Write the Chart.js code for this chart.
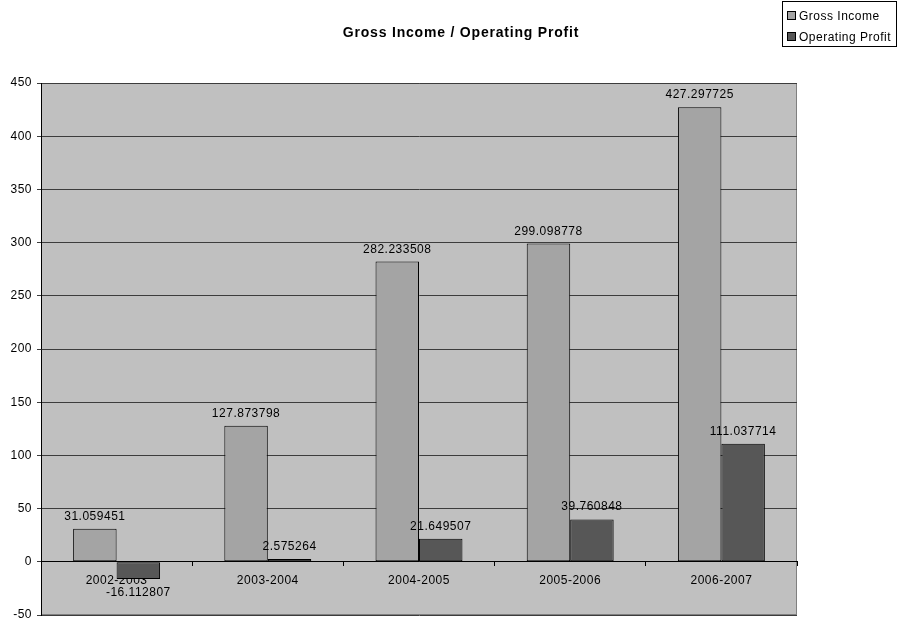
<!DOCTYPE html>
<html lang="en">
<head>
    <meta charset="UTF-8">
    <title>Gross Income / Operating Profit</title>
    <script src="https://cdn.jsdelivr.net/npm/chart.js@4.4.0/dist/chart.umd.min.js"></script>
    <style>
        html, body { margin: 0; padding: 0; background: #fff; }
        .chart-container { position: relative; width: 899px; height: 624px; }
    </style>
</head>
<body>
    <div class="chart-container">
        <canvas id="incomeChart"></canvas>
    </div>

    <script>
        // data
        const periods = ['2002-2003', '2003-2004', '2004-2005', '2005-2006', '2006-2007'];
        const grossIncome = [31.059451, 127.873798, 282.233508, 299.098778, 427.297725];
        const operatingProfit = [-16.112807, 2.575264, 21.649507, 39.760848, 111.037714];
        const seriesNames = ['Gross Income', 'Operating Profit'];
        const chartTitle = 'Gross Income / Operating Profit';

        const FONT = '"Liberation Sans", Arial, sans-serif';
        Chart.defaults.font.family = FONT;
        Chart.defaults.font.size = 12;
        Chart.defaults.color = '#000';

        // the reference text runs a bit wider than plain Arial
        const spacing = {
            id: 'spacing',
            beforeDraw(chart) { chart.ctx.letterSpacing = '0.5px'; }
        };

        // plot background + frame
        const plotBackground = {
            id: 'plotBackground',
            beforeDraw(chart) {
                const { ctx, chartArea: a } = chart;
                ctx.save();
                ctx.fillStyle = '#c0c0c0';
                ctx.fillRect(a.left, a.top, a.right - a.left, a.bottom - a.top);
                ctx.strokeStyle = '#808080';
                ctx.lineWidth = 1;
                ctx.strokeRect(a.left + 0.5, a.top + 0.5, a.right - a.left - 1, a.bottom - a.top - 1);
                ctx.restore();
            }
        };

        // value labels above / below each bar
        const valueLabels = {
            id: 'valueLabels',
            afterDatasetsDraw(chart) {
                const ctx = chart.ctx;
                ctx.save();
                ctx.font = '12px ' + FONT;
                ctx.letterSpacing = '0.5px';
                ctx.fillStyle = '#000';
                ctx.textAlign = 'center';
                ctx.textBaseline = 'alphabetic';
                chart.data.datasets.forEach((ds, i) => {
                    chart.getDatasetMeta(i).data.forEach((bar, j) => {
                        const v = ds.data[j];
                        if (v >= 0) {
                            ctx.fillText(String(v), bar.x, bar.y - 9);
                        } else {
                            ctx.fillText(String(v), bar.x, bar.y + 17);
                        }
                    });
                });
                ctx.restore();
            }
        };

        // title and boxed legend, Excel style
        const titleAndLegend = {
            id: 'titleAndLegend',
            afterDraw(chart) {
                const ctx = chart.ctx;
                ctx.save();
                ctx.fillStyle = '#000';
                ctx.font = 'bold 14px ' + FONT;
                ctx.letterSpacing = '0.8px';
                ctx.textAlign = 'center';
                ctx.textBaseline = 'middle';
                ctx.fillText(chartTitle, 461, 33);

                // legend box
                ctx.strokeStyle = '#000';
                ctx.lineWidth = 1;
                ctx.strokeRect(782.5, 1.5, 114, 45);
                ctx.font = '12px ' + FONT;
                ctx.letterSpacing = '0.5px';
                ctx.textAlign = 'left';
                chart.data.datasets.forEach((ds, i) => {
                    const y = 16 + i * 21;
                    ctx.fillStyle = ds.backgroundColor;
                    ctx.fillRect(787.5, y - 4.5, 8, 8);
                    ctx.strokeRect(787.5, y - 4.5, 8, 8);
                    ctx.fillStyle = '#000';
                    ctx.fillText(ds.label, 799, y + 1);
                });
                ctx.restore();
            }
        };

        const ctx = document.getElementById('incomeChart').getContext('2d');
        new Chart(ctx, {
            type: 'bar',
            data: {
                labels: periods,
                datasets: [
                    {
                        label: seriesNames[0],
                        data: grossIncome,
                        backgroundColor: '#a4a4a4',
                        borderColor: '#000',
                        borderWidth: 1,
                        borderSkipped: false,
                        barPercentage: 1,
                        categoryPercentage: 0.575
                    },
                    {
                        label: seriesNames[1],
                        data: operatingProfit,
                        backgroundColor: '#575757',
                        borderColor: '#000',
                        borderWidth: 1,
                        borderSkipped: false,
                        barPercentage: 1,
                        categoryPercentage: 0.575
                    }
                ]
            },
            options: {
                responsive: true,
                maintainAspectRatio: false,
                animation: false,
                layout: { padding: { top: 83, right: 102, bottom: 9, left: 0 } },
                plugins: {
                    legend: { display: false },
                    title: { display: false },
                    tooltip: { enabled: false }
                },
                scales: {
                    x: {
                        position: { y: 0 },
                        offset: true,
                        grid: {
                            offset: true,
                            drawOnChartArea: false,
                            drawTicks: true,
                            tickLength: 4,
                            color: '#000'
                        },
                        border: { color: '#000', width: 1 },
                        ticks: { padding: 8, maxRotation: 0, autoSkip: false }
                    },
                    y: {
                        min: -50,
                        max: 450,
                        ticks: { stepSize: 50, padding: 5 },
                        grid: { color: '#3c3c3c', tickLength: 4 },
                        border: { color: '#000', width: 1 },
                        afterFit(scale) {
                            scale.width = 41;
                            scale.paddingTop = 0;
                            scale.paddingBottom = 0;
                        }
                    }
                }
            },
            plugins: [spacing, plotBackground, valueLabels, titleAndLegend]
        });
    </script>
</body>
</html>
